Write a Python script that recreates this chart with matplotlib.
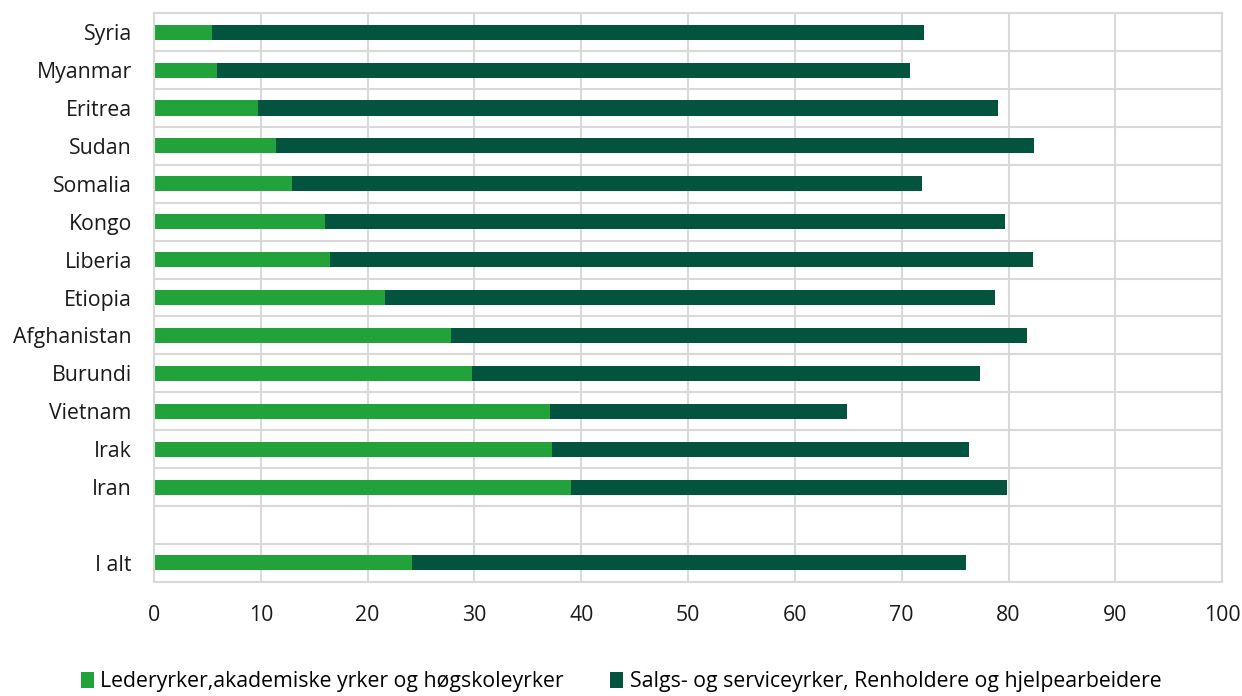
import matplotlib.pyplot as plt
import numpy as np

plt.rcParams['font.family'] = ['Open Sans', 'DejaVu Sans']

countries = ["Syria", "Myanmar", "Eritrea", "Sudan", "Somalia", "Kongo", "Liberia",
             "Etiopia", "Afghanistan", "Burundi", "Vietnam", "Irak", "Iran", "", "I alt"]
leder = [5.4, 5.9, 9.7, 11.4, 12.9, 16.0, 16.5, 21.6, 27.8, 29.8, 37.1, 37.3, 39.0, np.nan, 24.2]
salg = [66.7, 64.9, 69.3, 71.0, 59.0, 63.7, 65.8, 57.1, 53.9, 47.5, 27.8, 39.0, 40.9, np.nan, 51.8]
labels = ["Lederyrker,akademiske yrker og høgskoleyrker",
          "Salgs- og serviceyrker, Renholdere og hjelpearbeidere"]

green = "#22a23a"
dark = "#03543f"
grid = "#d9d9d9"

fig = plt.figure(figsize=(12.42, 6.96), dpi=100)
ax = fig.add_axes([0.124, 0.164, 0.86, 0.817])

y = np.arange(len(countries))
ax.barh(y, leder, height=0.4, color=green, label=labels[0])
ax.barh(y, salg, left=leder, height=0.4, color=dark, label=labels[1])

ax.set_xlim(0, 100)
ax.set_ylim(len(countries) - 0.5, -0.5)
ax.set_xticks(np.arange(0, 101, 10))
ax.set_yticks(y)
ax.set_yticklabels(countries)
ax.set_yticks(np.arange(-0.5, len(countries), 1), minor=True)

ax.grid(axis="x", which="major", color=grid, linewidth=1.5)
ax.grid(axis="y", which="minor", color=grid, linewidth=1.5)
ax.set_axisbelow(True)
ax.tick_params(which="both", length=0, labelsize=15.3, colors="#1a1a1a")
ax.tick_params(axis="x", pad=17)
ax.tick_params(axis="y", pad=16)
for s in ax.spines.values():
    s.set_color(grid)
    s.set_linewidth(1.5)

fig.legend(loc="lower center", bbox_to_anchor=(0.5, -0.022), ncol=2, frameon=False,
           fontsize=15.3, handlelength=0.6, handleheight=0.8, handletextpad=0.3,
           columnspacing=2.2)

fig.savefig("out.png", dpi=100)
